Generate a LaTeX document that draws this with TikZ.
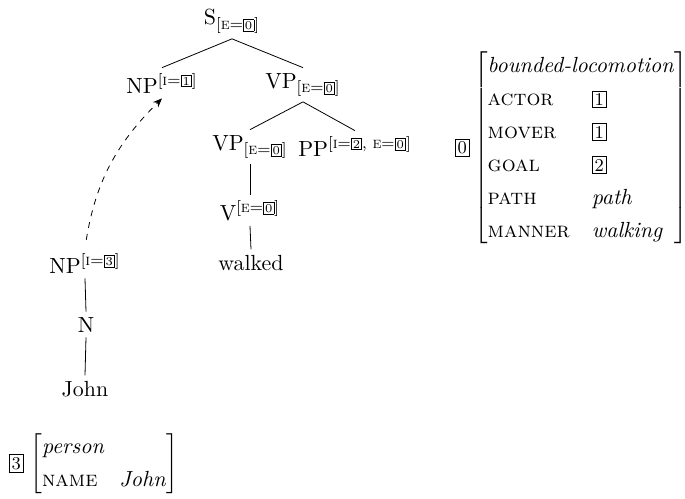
\documentclass[tikz,border=0pt,11pt]{standalone}
\usepackage{tikz}
\usetikzlibrary{arrows.meta, positioning}
\def\rowstretch{1.21}
\renewcommand{\arraystretch}{\rowstretch}
\newcommand{\boxnum}[1]{{\setlength{\fboxsep}{1pt}\fbox{\footnotesize #1}}}
\newcommand{\boxnumsm}[1]{{\setlength{\fboxsep}{0.6pt}\fbox{\tiny #1}}}
\begin{document}
\begin{tikzpicture}[
    x=0.5pt, y=-0.5pt,
    >={Stealth[length=1.6mm,width=1.3mm]},
    cat/.style={anchor=base, inner sep=2.5pt},
    avm/.style={inner sep=0pt, anchor=north west},
    tagnum/.style={inner sep=0pt}
]
\useasboundingbox (0,0) rectangle (685,498);
% tree
\node[cat] (S) at (232,25) {S\textsubscript{[\textsc{e}=\boxnumsm{0}]}};
\node[cat] (NP1) at (162,93) {NP\textsuperscript{[\textsc{i}=\boxnumsm{1}]}};
\node[cat] (VP1) at (303,88) {VP\textsubscript{[\textsc{e}=\boxnumsm{0}]}};
\node[cat] (VP2) at (250,150) {VP\textsubscript{[\textsc{e}=\boxnumsm{0}]}};
\node[cat] (PP) at (355,156) {PP\textsuperscript{[\textsc{i}=\boxnumsm{2}, \textsc{e}=\boxnumsm{0}]}};
\node[cat] (V) at (250,220) {V\textsuperscript{[\textsc{e}=\boxnumsm{0}]}};
\node[cat] (walked) at (251,270) {walked};
\node[cat] (NP3) at (85,273) {NP\textsuperscript{[\textsc{i}=\boxnumsm{3}]}};
\node[cat] (N) at (86,332) {N};
\node[cat] (John) at (85,396) {John};
\draw (S.south) -- (NP1.north);
\draw (S.south) -- (VP1.north);
\draw (VP1.south) -- (VP2.north);
\draw (VP1.south) -- (PP.north);
\draw (VP2.south) -- (V.north);
\draw (V.south) -- (walked.north);
\draw (NP3.south) -- (N.north);
\draw (N.south) -- (John.north);
\draw[->, dashed, shorten <=4pt] (NP3.north) to[bend left=18] (NP1.south);
% feature structures
\node[avm] (loco) at (474,49) {$\left[\begin{tabular}{@{}l@{\hspace{11pt}}l@{}}
\multicolumn{2}{@{}l@{}}{\textit{bounded-locomotion}}\\
\textsc{actor} & \boxnum{1}\\
\textsc{mover} & \boxnum{1}\\
\textsc{goal} & \boxnum{2}\\
\textsc{path} & \textit{path}\\
\textsc{manner} & \textit{walking}
\end{tabular}\right]$};
\node[tagnum, left=2pt of loco] (t0) {\boxnum{0}};
\node[avm] (person) at (30,430) {$\left[\begin{tabular}{@{}l@{\hspace{11pt}}l@{}}
\multicolumn{2}{@{}l@{}}{\textit{person}}\\
\textsc{name} & \textit{John}
\end{tabular}\right]$};
\node[tagnum, left=3pt of person] (t3) {\boxnum{3}};
\end{tikzpicture}
\end{document}
